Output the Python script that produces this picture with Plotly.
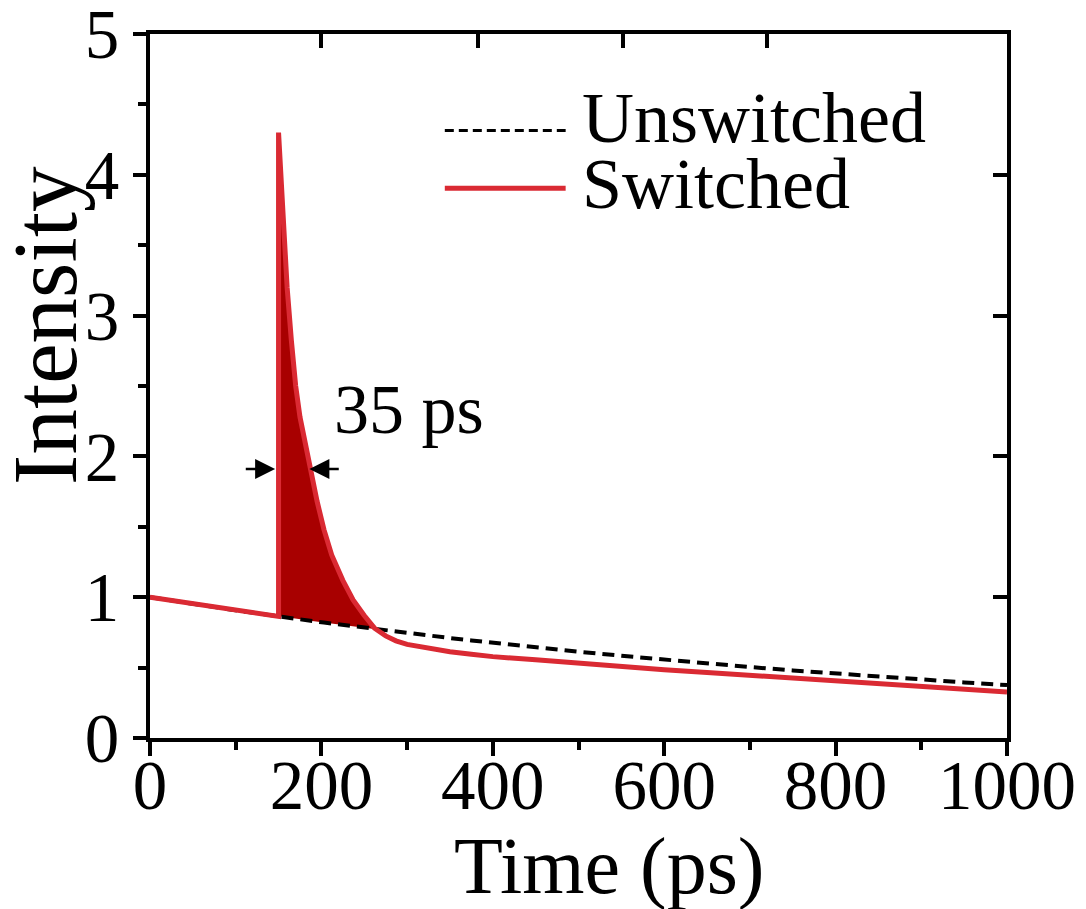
import plotly.graph_objects as go

# ---- data ----
time_ps = [0, 50, 100, 150, 150, 155, 160, 165, 170, 175, 180, 187, 195, 203, 212, 225,
           237, 250, 262, 275, 287, 300, 325, 350, 375, 400, 450, 500, 550, 600, 650,
           700, 750, 800, 850, 900, 950, 1000]
unswitched = [1.0, 0.952, 0.907, 0.864, 0.864, 0.859, 0.855, 0.851, 0.847, 0.843, 0.839,
              0.833, 0.826, 0.820, 0.813, 0.802, 0.793, 0.783, 0.774, 0.764, 0.755, 0.746,
              0.727, 0.710, 0.693, 0.676, 0.644, 0.613, 0.584, 0.556, 0.530, 0.504, 0.480,
              0.457, 0.435, 0.415, 0.395, 0.376]
switched = [1.0, 0.952, 0.907, 0.864, 4.30, 3.70, 3.20, 2.82, 2.50, 2.28, 2.13,
            1.91, 1.68, 1.48, 1.30, 1.12, 0.98, 0.87, 0.78, 0.725, 0.69, 0.665,
            0.635, 0.612, 0.595, 0.578, 0.555, 0.53, 0.505, 0.485, 0.465, 0.445, 0.425,
            0.405, 0.385, 0.365, 0.345, 0.327]
fill_start, fill_end = 4, 18   # indices of the shaded pulse (t = 150 .. 262 ps)
x_ticks = [0, 200, 400, 600, 800, 1000]
y_ticks = [0, 1, 2, 3, 4, 5]
pulse_label = "35 ps"
pulse_arrow_y = 1.91
pulse_left, pulse_right = 146, 186

FONT = "Liberation Serif, Times New Roman, serif"
RED = "#DA2A33"
DARKRED = "#A80000"

fig = go.Figure()
t_fill = time_ps[fill_start:fill_end + 1]
fig.add_trace(go.Scatter(x=t_fill, y=unswitched[fill_start:fill_end + 1], mode="lines",
                         line=dict(width=0), showlegend=False, hoverinfo="skip"))
fig.add_trace(go.Scatter(x=t_fill, y=switched[fill_start:fill_end + 1], mode="lines",
                         line=dict(width=0), fill="tonexty", fillcolor=DARKRED,
                         showlegend=False, hoverinfo="skip"))
fig.add_trace(go.Scatter(x=time_ps, y=unswitched, mode="lines", name="Unswitched",
                         line=dict(color="black", width=4, dash="12px,7px"), showlegend=False))
fig.add_trace(go.Scatter(x=time_ps, y=switched, mode="lines", name="Switched",
                         line=dict(color=RED, width=5), showlegend=False))
fig.add_trace(go.Scatter(x=[None], y=[None], xaxis="x2", yaxis="y2", showlegend=False))

axis_common = dict(showline=True, linecolor="black", linewidth=4, showgrid=False,
                   zeroline=False, tickcolor="black", tickwidth=4, ticklabeloverflow="allow",
                   automargin=False,
                   tickfont=dict(family=FONT, size=69, color="black"))
fig.update_layout(
    width=1086, height=909,
    margin=dict(l=150, r=79, t=34, b=171),
    plot_bgcolor="white", paper_bgcolor="white",
    xaxis=dict(range=[0, 1000], tickvals=x_ticks, ticks="outside", ticklen=14,
               ticklabelstandoff=-30,
               minor=dict(dtick=100, ticks="outside", ticklen=8, tickwidth=4, tickcolor="black"),
               **axis_common),
    yaxis=dict(range=[0, 5], tickvals=y_ticks, ticks="outside", ticklen=13,
               minor=dict(dtick=0.5, ticks="outside", ticklen=8, tickwidth=4, tickcolor="black"),
               **axis_common),
    xaxis2=dict(range=[0, 1000], overlaying="x", side="top", tickvals=[200, 383, 552, 720],
                ticks="inside", ticklen=14, showticklabels=False, anchor="y", **axis_common),
    yaxis2=dict(range=[0, 5], overlaying="y", side="right", tickvals=[1, 2, 3, 4],
                ticks="inside", ticklen=14, showticklabels=False, anchor="x", **axis_common),
)

ann = []
ann.append(dict(text="Time (ps)", xref="paper", yref="paper", x=0.536, y=-0.1165,
                xanchor="center", yanchor="top", showarrow=False,
                font=dict(family=FONT, size=80, color="black")))
ann.append(dict(text="Intensity", xref="paper", yref="paper", x=-0.122, y=0.586,
                xanchor="center", yanchor="middle", textangle=-90, showarrow=False,
                font=dict(family=FONT, size=91, color="black")))
ann.append(dict(text=pulse_label, xref="x", yref="y", x=212, y=2.33,
                xanchor="left", yanchor="middle", showarrow=False,
                font=dict(family=FONT, size=70, color="black")))
ann.append(dict(text="", x=pulse_left, y=pulse_arrow_y, ax=pulse_left - 36, ay=pulse_arrow_y,
                axref="x", ayref="y", xref="x", yref="y", showarrow=True,
                arrowhead=2, arrowsize=1.6, arrowwidth=2.5, arrowcolor="black"))
ann.append(dict(text="", x=pulse_right, y=pulse_arrow_y, ax=pulse_right + 36, ay=pulse_arrow_y,
                axref="x", ayref="y", xref="x", yref="y", showarrow=True,
                arrowhead=2, arrowsize=1.6, arrowwidth=2.5, arrowcolor="black"))
# legend (manual, to match long sample lines)
ann.append(dict(text="Unswitched", xref="paper", yref="paper", x=0.502, y=0.880,
                xanchor="left", yanchor="middle", showarrow=False,
                font=dict(family=FONT, size=72, color="black")))
ann.append(dict(text="Switched", xref="paper", yref="paper", x=0.502, y=0.787,
                xanchor="left", yanchor="middle", showarrow=False,
                font=dict(family=FONT, size=72, color="black")))
fig.update_layout(annotations=ann)

fig.add_shape(type="line", xref="paper", yref="paper", x0=0.344, x1=0.485, y0=0.863, y1=0.863,
              line=dict(color="black", width=3, dash="9px,5px"))
fig.add_shape(type="line", xref="paper", yref="paper", x0=0.344, x1=0.485, y0=0.781, y1=0.781,
              line=dict(color=RED, width=5))

fig.write_html("out.html", config={"displayModeBar": False},
               post_script="document.body.style.margin='0';")
